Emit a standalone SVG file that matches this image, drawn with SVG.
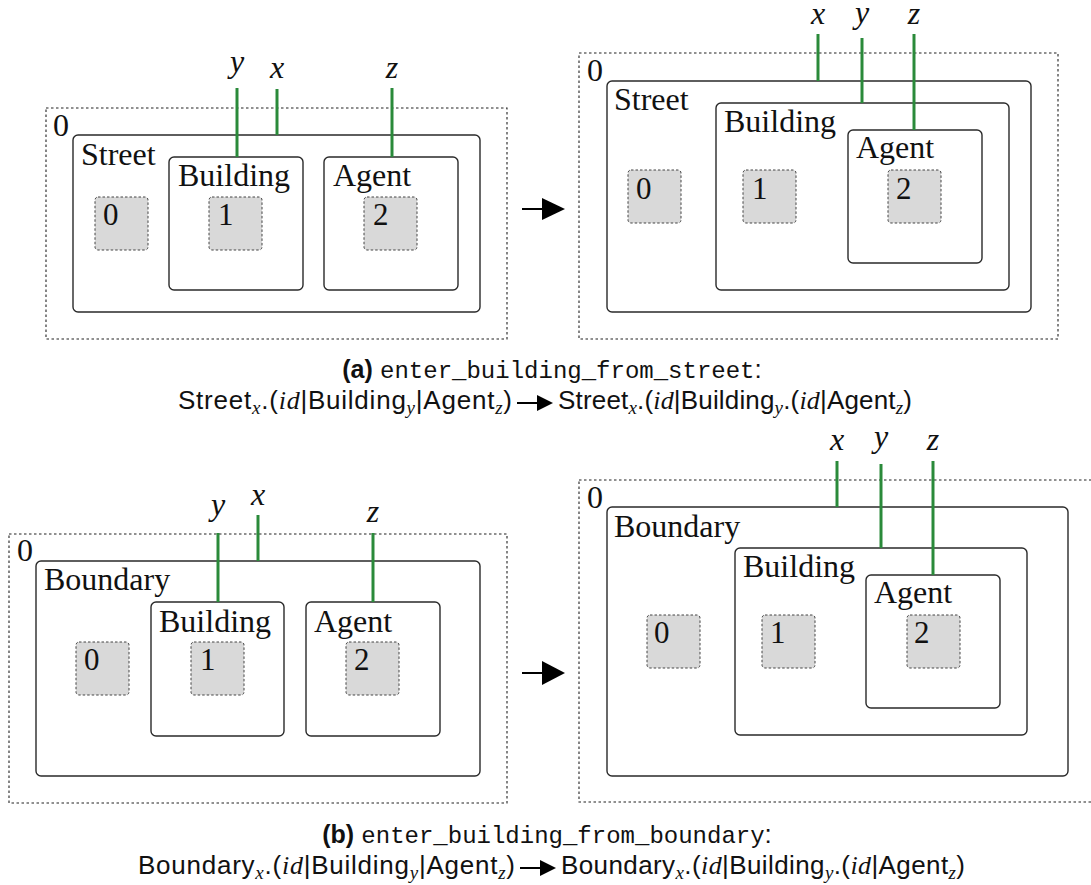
<svg xmlns="http://www.w3.org/2000/svg" width="1091" height="885" viewBox="0 0 1091 885">
<style>
.bg{fill:#ffffff}
.outer{fill:none;stroke:#222;stroke-width:1.1;stroke-dasharray:2.5 2.5}
.box{fill:#ffffff;stroke:#2a2a2a;stroke-width:1.4}
.gray{fill:#d9d9d9;stroke:#444;stroke-width:1;stroke-dasharray:2.5 2}
.lbl{font-family:"Liberation Serif","Times New Roman",serif;font-size:32px;fill:#111}
.num{font-family:"Liberation Serif","Times New Roman",serif;font-size:31px;fill:#111}
.var{font-family:"Liberation Serif","Times New Roman",serif;font-style:italic;font-size:32px;fill:#111;text-anchor:middle}
.link{stroke:#2a8a3a;stroke-width:3;fill:none}
.arr{stroke:#000;stroke-width:2;fill:none}
.head{fill:#000}
.cap{font-family:"Liberation Sans",Arial,sans-serif;font-size:26px;fill:#111}
.capb{font-family:"Liberation Sans",Arial,sans-serif;font-weight:bold;font-size:25px}
.mono{font-family:"Liberation Mono","Courier New",monospace;font-size:24px}
.it{font-family:"Liberation Serif","Times New Roman",serif;font-style:italic}
.sub{font-family:"Liberation Serif","Times New Roman",serif;font-style:italic;font-size:19px}
</style>
<rect class="bg" x="0" y="0" width="1091" height="885"/>

<!-- Panel a left -->
<g id="a-left-root">
<rect class="outer" x="46" y="108" width="461" height="231"/>
<text class="lbl" x="53" y="136">0</text>
</g>
<g id="a-left-street">
<rect class="box" x="73" y="135" width="407" height="177" rx="5"/>
<text class="lbl" x="81" y="165">Street</text>
</g>
<g id="a-left-site0">
<rect class="gray" x="95" y="197" width="53" height="53" rx="3"/>
<text class="num" x="103" y="225">0</text>
</g>
<g id="a-left-building">
<rect class="box" x="169" y="157" width="134" height="133" rx="5"/>
<text class="lbl" x="178" y="186">Building</text>
</g>
<g id="a-left-site1">
<rect class="gray" x="209" y="197" width="53" height="53" rx="3"/>
<text class="num" x="218" y="225">1</text>
</g>
<g id="a-left-agent">
<rect class="box" x="324" y="157" width="134" height="133" rx="5"/>
<text class="lbl" x="333" y="186">Agent</text>
</g>
<g id="a-left-site2">
<rect class="gray" x="364" y="197" width="53" height="53" rx="3"/>
<text class="num" x="373" y="225">2</text>
</g>

<!-- Panel a right -->
<g id="a-right-root">
<rect class="outer" x="579" y="53" width="479" height="286"/>
<text class="lbl" x="587" y="81">0</text>
</g>
<g id="a-right-street">
<rect class="box" x="607" y="81" width="424" height="231" rx="5"/>
<text class="lbl" x="614" y="110">Street</text>
</g>
<g id="a-right-site0">
<rect class="gray" x="628" y="170" width="53" height="53" rx="3"/>
<text class="num" x="636" y="199">0</text>
</g>
<g id="a-right-building">
<rect class="box" x="716" y="103" width="293" height="187" rx="5"/>
<text class="lbl" x="724" y="132">Building</text>
</g>
<g id="a-right-site1">
<rect class="gray" x="743" y="170" width="53" height="53" rx="3"/>
<text class="num" x="752" y="199">1</text>
</g>
<g id="a-right-agent">
<rect class="box" x="848" y="130" width="134" height="133" rx="5"/>
<text class="lbl" x="856" y="158">Agent</text>
</g>
<g id="a-right-site2">
<rect class="gray" x="888" y="170" width="53" height="53" rx="3"/>
<text class="num" x="896" y="199">2</text>
</g>

<!-- Panel b left -->
<g id="b-left-root">
<rect class="outer" x="9" y="534" width="498" height="269"/>
<text class="lbl" x="17" y="561">0</text>
</g>
<g id="b-left-boundary">
<rect class="box" x="36" y="561" width="444" height="215" rx="5"/>
<text class="lbl" x="44" y="590">Boundary</text>
</g>
<g id="b-left-site0">
<rect class="gray" x="76" y="642" width="53" height="53" rx="3"/>
<text class="num" x="84" y="670">0</text>
</g>
<g id="b-left-building">
<rect class="box" x="151" y="602" width="133" height="134" rx="5"/>
<text class="lbl" x="159" y="632">Building</text>
</g>
<g id="b-left-site1">
<rect class="gray" x="191" y="642" width="53" height="53" rx="3"/>
<text class="num" x="200" y="670">1</text>
</g>
<g id="b-left-agent">
<rect class="box" x="306" y="602" width="134" height="134" rx="5"/>
<text class="lbl" x="314" y="632">Agent</text>
</g>
<g id="b-left-site2">
<rect class="gray" x="346" y="642" width="53" height="53" rx="3"/>
<text class="num" x="354" y="670">2</text>
</g>

<!-- Panel b right -->
<g id="b-right-root">
<rect class="outer" x="579" y="480" width="530" height="322"/>
<text class="lbl" x="587" y="508">0</text>
</g>
<g id="b-right-boundary">
<rect class="box" x="607" y="507" width="461" height="269" rx="5"/>
<text class="lbl" x="614" y="537">Boundary</text>
</g>
<g id="b-right-site0">
<rect class="gray" x="647" y="615" width="53" height="53" rx="3"/>
<text class="num" x="654" y="643">0</text>
</g>
<g id="b-right-building">
<rect class="box" x="735" y="548" width="292" height="187" rx="5"/>
<text class="lbl" x="743" y="577">Building</text>
</g>
<g id="b-right-site1">
<rect class="gray" x="762" y="615" width="53" height="53" rx="3"/>
<text class="num" x="770" y="643">1</text>
</g>
<g id="b-right-agent">
<rect class="box" x="866" y="575" width="134" height="133" rx="5"/>
<text class="lbl" x="874" y="603">Agent</text>
</g>
<g id="b-right-site2">
<rect class="gray" x="907" y="615" width="53" height="53" rx="3"/>
<text class="num" x="914" y="643">2</text>
</g>

<!-- Connectors: links and transition arrows -->
<g id="connectors">
<line class="link" x1="237" y1="88" x2="237" y2="157"/>
<line class="link" x1="277" y1="89" x2="277" y2="135"/>
<line class="link" x1="392" y1="88" x2="392" y2="157"/>
<line class="link" x1="818" y1="34" x2="818" y2="81"/>
<line class="link" x1="862" y1="38" x2="862" y2="103"/>
<line class="link" x1="914" y1="34" x2="914" y2="130"/>
<line class="link" x1="218" y1="533" x2="218" y2="602"/>
<line class="link" x1="258" y1="515" x2="258" y2="561"/>
<line class="link" x1="373" y1="533" x2="373" y2="602"/>
<line class="link" x1="837" y1="461" x2="837" y2="507"/>
<line class="link" x1="881" y1="464" x2="881" y2="548"/>
<line class="link" x1="933" y1="461" x2="933" y2="575"/>
<line class="arr" x1="522" y1="209" x2="544" y2="209"/>
<polygon class="head" points="542,198 565,209 542,220"/>
<line class="arr" x1="522" y1="673" x2="544" y2="673"/>
<polygon class="head" points="542,661 565,673 542,685"/>
</g>

<!-- Link names -->
<g id="names">
<text class="var" x="237" y="72">y</text>
<text class="var" x="277" y="78">x</text>
<text class="var" x="392" y="78">z</text>
<text class="var" x="818" y="24">x</text>
<text class="var" x="862" y="23">y</text>
<text class="var" x="914" y="24">z</text>
<text class="var" x="218" y="515">y</text>
<text class="var" x="258" y="505">x</text>
<text class="var" x="373" y="522">z</text>
<text class="var" x="837" y="450">x</text>
<text class="var" x="881" y="447">y</text>
<text class="var" x="933" y="450">z</text>
</g>

<!-- Captions -->
<g id="caption-a">
<text class="cap" x="552" y="378" text-anchor="middle"><tspan class="capb">(a)</tspan> <tspan class="mono">enter_building_from_street</tspan>:</text>
<text class="cap" x="512" y="409" text-anchor="end" textLength="334">Street<tspan class="sub" dy="5">x</tspan><tspan dy="-5">.(</tspan><tspan class="it">id</tspan>|Building<tspan class="sub" dy="5">y</tspan><tspan dy="-5">|Agent</tspan><tspan class="sub" dy="5">z</tspan><tspan dy="-5">)</tspan></text>
<line class="arr" x1="517" y1="403" x2="540" y2="403"/>
<polygon class="head" points="537,395 553,403 537,411"/>
<text class="cap" x="558" y="409" textLength="354">Street<tspan class="sub" dy="5">x</tspan><tspan dy="-5">.(</tspan><tspan class="it">id</tspan>|Building<tspan class="sub" dy="5">y</tspan><tspan dy="-5">.(</tspan><tspan class="it">id</tspan>|Agent<tspan class="sub" dy="5">z</tspan><tspan dy="-5">)</tspan></text>
</g>
<g id="caption-b">
<text class="cap" x="547" y="843" text-anchor="middle"><tspan class="capb">(b)</tspan> <tspan class="mono">enter_building_from_boundary</tspan>:</text>
<text class="cap" x="515" y="874" text-anchor="end" textLength="377">Boundary<tspan class="sub" dy="5">x</tspan><tspan dy="-5">.(</tspan><tspan class="it">id</tspan>|Building<tspan class="sub" dy="5">y</tspan><tspan dy="-5">|Agent</tspan><tspan class="sub" dy="5">z</tspan><tspan dy="-5">)</tspan></text>
<line class="arr" x1="520" y1="868" x2="543" y2="868"/>
<polygon class="head" points="540,860 556,868 540,876"/>
<text class="cap" x="561" y="874" textLength="404">Boundary<tspan class="sub" dy="5">x</tspan><tspan dy="-5">.(</tspan><tspan class="it">id</tspan>|Building<tspan class="sub" dy="5">y</tspan><tspan dy="-5">.(</tspan><tspan class="it">id</tspan>|Agent<tspan class="sub" dy="5">z</tspan><tspan dy="-5">)</tspan></text>
</g>
</svg>
